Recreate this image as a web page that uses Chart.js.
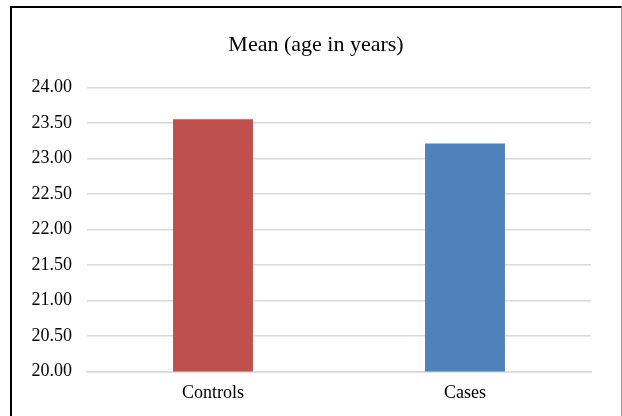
<!DOCTYPE html>
<html>
<head>
<meta charset="utf-8">
<script src="https://cdn.jsdelivr.net/npm/chart.js@4"></script>
<style>
  html, body { margin: 0; padding: 0; background: #fff; }
  #wrap { position: relative; width: 622px; height: 416px; }
  #frame {
    position: absolute; left: 10px; top: 6px; width: 609px; height: 420px;
    border-left: 2px solid #000; border-top: 2px solid #000; border-right: 1px solid #999;
    pointer-events: none;
  }
</style>
</head>
<body>
<div id="wrap">
  <canvas id="chart" width="622" height="416"></canvas>
  <div id="frame"></div>
</div>
<script>
const categories = ['Controls', 'Cases'];
const meanAge = [23.55, 23.21];
const barColors = ['#C0504D', '#4F81BD'];
const yMin = 20, yMax = 24, yStep = 0.5;

const font = "Liberation Serif";
Chart.defaults.font.family = font;
Chart.defaults.color = '#000';

new Chart(document.getElementById('chart').getContext('2d'), {
  type: 'bar',
  data: {
    labels: categories,
    datasets: [{
      data: meanAge,
      backgroundColor: barColors,
      barPercentage: 0.317,
      categoryPercentage: 1
    }]
  },
  options: {
    responsive: false,
    animation: false,
    layout: { padding: { left: 10, right: 0, top: 0, bottom: 1 } },
    plugins: {
      legend: { display: false },
      tooltip: { enabled: false },
      title: {
        display: true,
        text: 'Mean (age in years)',
        color: '#000',
        font: { family: font, size: 22, weight: 'normal' },
        padding: { top: 32, bottom: 29 }
      }
    },
    scales: {
      x: {
        grid: { display: false, drawTicks: false },
        border: { display: true, color: '#d9d9d9', width: 1.5 },
        ticks: { color: '#000', padding: 11, font: { family: font, size: 18 } }
      },
      y: {
        min: yMin,
        max: yMax,
        afterFit: s => { s.width = 77; },
        grid: { color: '#d9d9d9', lineWidth: 1.5, drawTicks: false },
        border: { display: false },
        ticks: {
          stepSize: yStep,
          padding: 15,
          color: '#000',
          font: { family: font, size: 18 },
          callback: v => v.toFixed(2)
        }
      },
      // empty axis on the right only to leave the same margin as the original
      yRight: {
        position: 'right',
        display: true,
        afterFit: s => { s.width = 31; },
        grid: { display: false, drawTicks: false },
        border: { display: false },
        ticks: { display: false }
      }
    }
  }
});
</script>
</body>
</html>
